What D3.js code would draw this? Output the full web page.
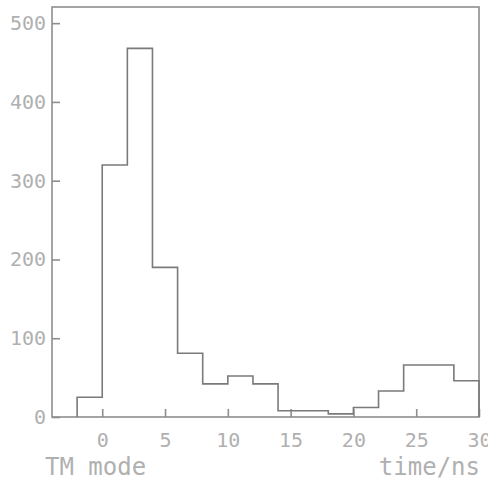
<!DOCTYPE html>
<html>
<head>
<meta charset="utf-8">
<script src="https://cdn.jsdelivr.net/npm/d3@7"></script>
<style>
  html, body { margin: 0; padding: 0; background: #fff; }
  svg { display: block; }
  text { font-family: "DejaVu Sans Mono", monospace; fill: #b0b0b0; }
</style>
</head>
<body>
<script>
// Time histogram, 2 ns bins
const binEdges = [-2, 0, 2, 4, 6, 8, 10, 12, 14, 16, 18, 20, 22, 24, 26, 28, 30];
const counts   = [25, 320, 468, 190, 81, 42, 52, 42, 8, 8, 4, 12, 33, 66, 66, 46];
const xTicks = [0, 5, 10, 15, 20, 25, 30];
const yTicks = [0, 100, 200, 300, 400, 500];
const leftLabel = "TM mode";
const axisLabel = "time/ns";

const W = 488, H = 481;
const m = { left: 52, right: 9, top: 7, bottom: 64 };

const svg = d3.select("body").append("svg").attr("width", W).attr("height", H);

const x = d3.scaleLinear().domain([-4, 30]).range([m.left, W - m.right]);
const y = d3.scaleLinear().domain([0, 520.5]).range([H - m.bottom, m.top]);

const lineCol = "#8e8e8e";
const textCol = "#b0b0b0";

// frame
svg.append("rect")
  .attr("x", x(-4)).attr("y", y(520.5))
  .attr("width", x(30) - x(-4)).attr("height", y(0) - y(520.5))
  .attr("fill", "none").attr("stroke", lineCol).attr("stroke-width", 1.6);

// x axis: ticks point inward
const xAxis = d3.axisBottom(x).tickValues(xTicks).tickSize(-8).tickPadding(16)
  .tickFormat(d3.format("d"));
const gx = svg.append("g").attr("transform", `translate(0,${y(0)})`).call(xAxis);
gx.select(".domain").remove();
gx.selectAll(".tick line").attr("stroke", lineCol).attr("stroke-width", 1.6);
gx.selectAll(".tick text").attr("font-size", 20).attr("fill", textCol)
  .attr("font-family", "DejaVu Sans Mono, monospace");

// y axis: ticks point inward
const yAxis = d3.axisLeft(y).tickValues(yTicks).tickSize(-8).tickPadding(6)
  .tickFormat(d3.format("d"));
const gy = svg.append("g").attr("transform", `translate(${x(-4)},0)`).call(yAxis);
gy.select(".domain").remove();
gy.selectAll(".tick line").attr("stroke", lineCol).attr("stroke-width", 1.6);
gy.selectAll(".tick text").attr("font-size", 20).attr("fill", textCol)
  .attr("font-family", "DejaVu Sans Mono, monospace");

// histogram outline as a step path
const pts = [[binEdges[0], 0]];
counts.forEach((c, i) => {
  pts.push([binEdges[i], c]);
  pts.push([binEdges[i + 1], c]);
});
pts.push([binEdges[binEdges.length - 1], 0]);

svg.append("path")
  .attr("d", d3.line().x(d => x(d[0])).y(d => y(d[1]))(pts))
  .attr("fill", "none").attr("stroke", "#7a7a7a").attr("stroke-width", 1.6);

// captions
svg.append("text").attr("x", 45).attr("y", 475)
  .attr("font-size", 24).text(leftLabel);
svg.append("text").attr("x", 480).attr("y", 475).attr("text-anchor", "end")
  .attr("font-size", 24).text(axisLabel);
</script>
</body>
</html>
